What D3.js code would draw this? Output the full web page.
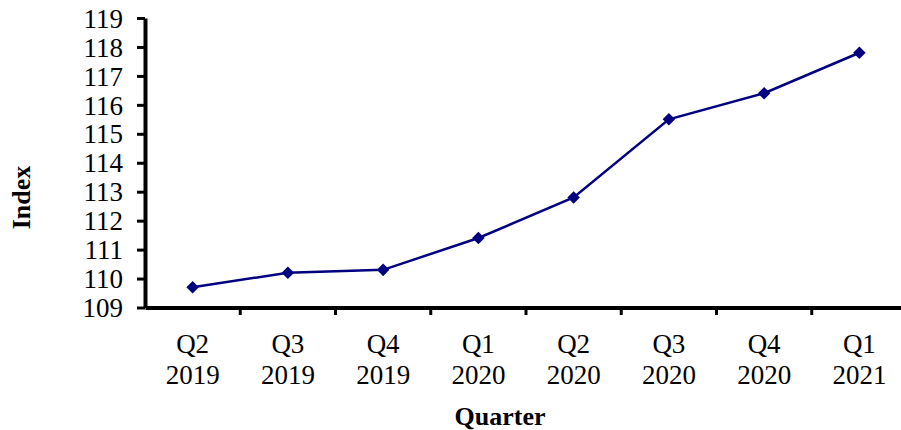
<!DOCTYPE html>
<html><head><meta charset="utf-8">
<script src="https://cdn.jsdelivr.net/npm/d3@7"></script>
<style>body{margin:0;background:#fff}svg{display:block}</style>
</head><body>
<svg id="c" width="901" height="430"></svg>
<script>
const quarters = ["Q2", "Q3", "Q4", "Q1", "Q2", "Q3", "Q4", "Q1"];
const years = ["2019", "2019", "2019", "2020", "2020", "2020", "2020", "2021"];
const indexValues = [109.7, 110.2, 110.3, 111.4, 112.8, 115.5, 116.4, 117.8];
const yTicks = [109, 110, 111, 112, 113, 114, 115, 116, 117, 118, 119];

const cats = quarters.map((q, i) => q + " " + years[i]);
const svg = d3.select("#c");
const font = "'Liberation Serif','Times New Roman',serif";
const mLeft = 145, mRight = 907, mTop = 18, mBottom = 307.5;

const x = d3.scaleBand().domain(cats).range([mLeft, mRight]);
const y = d3.scaleLinear().domain([109, 119]).range([mBottom, mTop]);

// Y axis
const gy = svg.append("g").attr("transform", `translate(${mLeft},0)`)
  .call(d3.axisLeft(y).tickValues(yTicks).tickFormat(d3.format("d")).tickSize(8).tickSizeOuter(0));
gy.select(".domain").attr("stroke", "#000").attr("stroke-width", 4);
gy.selectAll(".tick line").attr("stroke", "#000").attr("stroke-width", 3);
gy.selectAll(".tick text").attr("font-family", font).attr("font-size", 27).attr("fill", "#000")
  .attr("x", -22).attr("dy", "0.34em");

// X axis
const gx = svg.append("g").attr("transform", `translate(0,${mBottom})`)
  .call(d3.axisBottom(x).tickSize(0).tickSizeOuter(0).tickFormat(""));
gx.select(".domain").attr("stroke", "#000").attr("stroke-width", 4);
const bounds = cats.slice(1).map(c => x(c));
gx.selectAll("line.b").data(bounds).enter().append("line").attr("class", "b")
  .attr("x1", d => d).attr("x2", d => d).attr("y1", 0).attr("y2", 7.5)
  .attr("stroke", "#000").attr("stroke-width", 3);
gx.selectAll(".tick").each(function(d, i) {
  const t = d3.select(this).append("text").attr("font-family", font).attr("font-size", 27)
    .attr("fill", "#000").attr("text-anchor", "middle");
  t.append("tspan").attr("x", 0).attr("y", 45.5).text(quarters[i]);
  t.append("tspan").attr("x", 0).attr("y", 76.5).text(years[i]);
});

// Line
const line = d3.line().x((d, i) => x(cats[i]) + x.bandwidth() / 2).y(d => y(d));
svg.append("path").datum(indexValues).attr("d", line)
  .attr("fill", "none").attr("stroke", "#000080").attr("stroke-width", 2.5);
svg.selectAll("path.m").data(indexValues).enter().append("path").attr("class", "m")
  .attr("d", d3.symbol().type(d3.symbolDiamond2).size(100))
  .attr("transform", (d, i) => `translate(${x(cats[i]) + x.bandwidth() / 2},${y(d)})`)
  .attr("fill", "#000080");

// Titles
svg.append("text").attr("transform", "translate(30,197.5) rotate(-90)")
  .attr("text-anchor", "middle").attr("font-family", font).attr("font-size", 26)
  .attr("font-weight", "bold").text("Index");
svg.append("text").attr("x", 500).attr("y", 425)
  .attr("text-anchor", "middle").attr("font-family", font).attr("font-size", 26)
  .attr("font-weight", "bold").text("Quarter");
</script>
</body></html>
